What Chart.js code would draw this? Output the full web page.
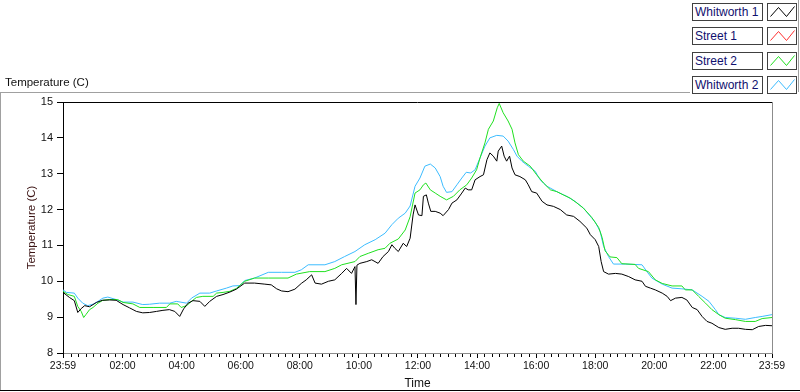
<!DOCTYPE html>
<html>
<head>
<meta charset="utf-8">
<title>Temperature (C)</title>
<script src="https://cdn.jsdelivr.net/npm/chart.js@4.4.1/dist/chart.umd.min.js"></script>
<style>
    body { margin: 0; background: #fff; }
    #wrap { position: relative; width: 800px; height: 392px; overflow: hidden; }
    #tempChart { position: absolute; left: 0; top: 0; }
    #plotTitle {
        position: absolute; left: 5px; top: 75px;
        font: 11.5px 'Liberation Sans', Arial, sans-serif; line-height: 14px; color: #111;
    }
    .leg-row { position: absolute; left: 692px; width: 106px; height: 18px; }
    .leg-name {
        position: absolute; left: 0; top: 0; width: 71px; height: 18px; box-sizing: border-box;
        border: 1px solid #404040; padding-left: 2px;
        font: 12px 'Liberation Sans', Arial, sans-serif; line-height: 16px; color: #10106e;
        white-space: nowrap; background: #fff;
    }
    .leg-swatch {
        position: absolute; left: 75px; top: 0; width: 30px; height: 18px; box-sizing: border-box;
        border: 1px solid #404040; background: #fff;
    }
    .leg-swatch svg { display: block; }
</style>
</head>
<body>
<div id="wrap">
    <canvas id="tempChart" width="800" height="392"></canvas>
    <div id="plotTitle">Temperature (C)</div>
    <div id="legend"></div>
</div>
<script>
// Series names, in legend order
const seriesNames = ['Whitworth 1', 'Street 1', 'Street 2', 'Whitworth 2'];

// Time axis: minutes since 23:59 of the previous day
const tickMinutes = [0, 121, 241, 361, 481, 601, 721, 841, 961, 1081, 1201, 1321, 1440];
const tickLabels = ['23:59', '02:00', '04:00', '06:00', '08:00', '10:00', '12:00',
    '14:00', '16:00', '18:00', '20:00', '22:00', '23:59'];
const yTicks = [8, 9, 10, 11, 12, 13, 14, 15];

// Whitworth 1 (black)
const w1Time = [0, 13, 23, 30, 37, 44, 54, 68, 80, 95, 108, 122, 135, 149, 162, 176, 190, 203, 216, 227,
    237, 245, 254, 264, 278, 288, 298, 312, 325, 339, 352, 369, 389, 410, 423, 434, 444, 457, 471, 484,
    494, 505, 512, 525, 539, 552, 566, 576, 586, 593, 595, 597, 603, 617, 627, 640, 650, 661, 668, 674,
    681, 691, 698, 705, 711, 715, 722, 729, 732, 738, 742, 747, 756, 766, 772, 783, 790, 800, 810, 817,
    823, 830, 837, 847, 854, 861, 867, 874, 881, 884, 891, 896, 901, 907, 912, 918, 928, 939, 945, 952,
    962, 973, 983, 996, 1010, 1023, 1037, 1050, 1064, 1071, 1081, 1088, 1093, 1098, 1108, 1122, 1135, 1149, 1162, 1176,
    1183, 1193, 1203, 1217, 1227, 1234, 1244, 1257, 1267, 1278, 1288, 1298, 1308, 1318, 1332, 1345, 1359, 1372, 1386, 1400,
    1413, 1427, 1440];
const w1Vals = [9.69, 9.55, 9.46, 9.13, 9.24, 9.32, 9.29, 9.41, 9.47, 9.48, 9.47, 9.35, 9.26, 9.16, 9.12, 9.13, 9.16, 9.19, 9.21, 9.16,
    9.02, 9.23, 9.39, 9.46, 9.44, 9.30, 9.44, 9.58, 9.63, 9.70, 9.78, 9.95, 9.95, 9.92, 9.90, 9.79, 9.73, 9.71, 9.78, 9.94,
    10.04, 10.18, 9.95, 9.92, 10.0, 10.04, 10.22, 10.36, 10.22, 10.41, 9.35, 10.45, 10.50, 10.55, 10.60, 10.50, 10.69, 10.83, 11.02, 10.92,
    10.83, 11.06, 10.97, 11.2, 11.85, 12.13, 11.85, 11.83, 12.37, 12.41, 12.18, 11.95, 11.95, 11.9, 11.83, 12.0, 12.18, 12.27, 12.46, 12.6,
    12.55, 12.55, 12.83, 12.92, 12.97, 13.39, 13.58, 13.49, 13.35, 13.63, 13.77, 13.49, 13.35, 13.49, 13.16, 12.97, 12.92, 12.83, 12.69, 12.5,
    12.46, 12.23, 12.13, 12.09, 12.0, 11.85, 11.81, 11.67, 11.48, 11.30, 11.16, 10.97, 10.55, 10.27, 10.2, 10.22, 10.2, 10.13, 10.04, 10.0,
    9.86, 9.81, 9.76, 9.67, 9.58, 9.46, 9.53, 9.55, 9.48, 9.27, 9.21, 9.02, 8.88, 8.83, 8.71, 8.66, 8.69, 8.69, 8.66, 8.65,
    8.74, 8.77, 8.76];

// Street 1 (red) - no trace visible on the plot
const s1Time = [];
const s1Vals = [];

// Street 2 (green)
const s2Time = [0, 10, 23, 30, 37, 42, 47, 54, 61, 71, 81, 95, 111, 122, 142, 156, 183, 210, 217, 233,
    240, 251, 261, 271, 284, 305, 312, 325, 339, 352, 369, 389, 417, 457, 474, 501, 532, 552, 566, 593,
    603, 620, 640, 654, 664, 681, 695, 705, 715, 725, 732, 737, 746, 756, 766, 779, 793, 806, 820, 830,
    840, 847, 857, 864, 874, 882, 886, 894, 904, 912, 918, 925, 935, 949, 962, 976, 990, 1003, 1016, 1030,
    1044, 1057, 1074, 1088, 1095, 1101, 1111, 1125, 1135, 1162, 1169, 1189, 1203, 1217, 1237, 1257, 1264, 1278, 1291, 1305,
    1318, 1332, 1345, 1366, 1386, 1406, 1420, 1440];
const s2Vals = [9.72, 9.63, 9.58, 9.30, 9.16, 8.99, 9.08, 9.21, 9.27, 9.39, 9.47, 9.49, 9.49, 9.41, 9.37, 9.27, 9.27, 9.27, 9.37, 9.37,
    9.27, 9.32, 9.44, 9.55, 9.58, 9.58, 9.67, 9.69, 9.72, 9.80, 10.0, 10.09, 10.09, 10.09, 10.20, 10.27, 10.27, 10.36, 10.46, 10.55,
    10.69, 10.78, 10.88, 10.92, 11.06, 11.18, 11.43, 11.80, 12.46, 12.55, 12.69, 12.74, 12.55, 12.46, 12.37, 12.27, 12.37, 12.55, 12.69, 12.88,
    13.11, 13.44, 13.86, 14.24, 14.47, 14.84, 14.96, 14.70, 14.47, 14.24, 13.86, 13.53, 13.35, 13.21, 12.97, 12.74, 12.55, 12.50, 12.41, 12.32,
    12.18, 12.04, 11.78, 11.50, 11.22, 10.85, 10.68, 10.66, 10.49, 10.47, 10.36, 10.27, 10.04, 9.94, 9.87, 9.87, 9.76, 9.76, 9.58, 9.39,
    9.21, 9.07, 8.97, 8.93, 8.88, 8.88, 8.96, 8.99];

// Whitworth 2 (light blue)
const w2Time = [0, 7, 23, 30, 40, 50, 61, 71, 81, 91, 108, 122, 142, 162, 176, 196, 217, 230, 251, 261,
    278, 298, 312, 332, 345, 359, 369, 389, 417, 444, 471, 484, 498, 532, 552, 572, 593, 613, 634, 654,
    668, 681, 695, 705, 715, 725, 735, 746, 756, 766, 772, 779, 790, 800, 810, 819, 828, 837, 847, 857,
    867, 881, 894, 904, 915, 922, 932, 945, 959, 969, 983, 1003, 1023, 1040, 1057, 1081, 1091, 1098, 1108, 1118,
    1142, 1176, 1186, 1196, 1217, 1237, 1257, 1278, 1298, 1312, 1325, 1332, 1345, 1366, 1386, 1406, 1420, 1440];
const w2Vals = [9.76, 9.69, 9.67, 9.53, 9.39, 9.32, 9.36, 9.44, 9.53, 9.56, 9.49, 9.42, 9.42, 9.35, 9.36, 9.39, 9.39, 9.44, 9.39, 9.53,
    9.67, 9.67, 9.73, 9.81, 9.87, 9.88, 10.02, 10.09, 10.25, 10.25, 10.25, 10.32, 10.46, 10.46, 10.55, 10.69, 10.83, 11.02, 11.16, 11.34,
    11.58, 11.76, 11.90, 12.1, 12.65, 12.88, 13.21, 13.27, 13.16, 12.92, 12.65, 12.48, 12.50, 12.69, 12.88, 13.04, 13.02, 13.11, 13.44, 13.77,
    14.0, 14.07, 14.05, 13.91, 13.67, 13.49, 13.35, 13.21, 13.07, 12.83, 12.65, 12.50, 12.37, 12.23, 12.04, 11.65, 11.39, 10.97, 10.69, 10.48,
    10.48, 10.46, 10.27, 10.09, 9.92, 9.81, 9.79, 9.76, 9.58, 9.44, 9.21, 9.07, 8.99, 8.97, 8.94, 8.99, 9.02, 9.07];

const seriesColors = ['#000000', '#ff3030', '#1fe01f', '#3cbcff'];

function toPoints(times, vals) {
    return times.map((t, i) => ({ x: t, y: vals[i] }));
}

// Frame lines around the panel and the plot area
const framePlugin = {
    id: 'frame',
    afterDraw(chart) {
        const ctx = chart.ctx;
        const a = chart.chartArea;
        ctx.save();
        ctx.lineWidth = 1;
        // panel frame
        ctx.strokeStyle = '#a0a0a0';
        ctx.beginPath();
        ctx.moveTo(0, 92.5); ctx.lineTo(690, 92.5);
        ctx.moveTo(0.5, 92); ctx.lineTo(0.5, 391);
        ctx.moveTo(798.5, 0); ctx.lineTo(798.5, 92);
        ctx.stroke();
        ctx.strokeStyle = '#000';
        ctx.beginPath();
        ctx.moveTo(0, 390.5); ctx.lineTo(800, 390.5);
        ctx.stroke();
        // plot top (black) and right (gray)
        ctx.beginPath();
        ctx.moveTo(a.left, Math.round(a.top) + 0.5); ctx.lineTo(a.right, Math.round(a.top) + 0.5);
        ctx.stroke();
        ctx.strokeStyle = '#8c8c8c';
        ctx.beginPath();
        ctx.moveTo(Math.round(a.right) + 0.5, a.top); ctx.lineTo(Math.round(a.right) + 0.5, a.bottom + 1);
        ctx.stroke();
        // minor time ticks every 15 minutes
        const xs = chart.scales.x;
        const y0 = Math.round(a.bottom);
        ctx.strokeStyle = '#000';
        ctx.beginPath();
        for (let m = 1; m < 1440; m += 15) {
            if (tickMinutes.some(t => Math.abs(t - m) < 3)) continue;
            const px = Math.round(xs.getPixelForValue(m)) + 0.5;
            ctx.moveTo(px, y0 + 1); ctx.lineTo(px, y0 + 4);
        }
        ctx.stroke();
        ctx.restore();
    }
};

function buildLegend() {
    const box = document.getElementById('legend');
    seriesNames.forEach((name, i) => {
        const row = document.createElement('div');
        row.className = 'leg-row';
        row.style.top = Math.round(3 + i * 24.4) + 'px';
        row.innerHTML = '<div class="leg-name">' + name + '</div>' +
            '<div class="leg-swatch"><svg width="28" height="16">' +
            '<polyline points="2.5,12.5 10.5,3.5 18.5,12.5 26.5,2.5" fill="none" stroke="' +
            seriesColors[i] + '" stroke-width="1"/></svg></div>';
        box.appendChild(row);
    });
}

function initTempChart() {
    const ctx = document.getElementById('tempChart');
    if (typeof Chart === 'undefined') {
        console.error('Chart.js is not loaded');
        return;
    }

    const series = [
        [w1Time, w1Vals], [s1Time, s1Vals], [s2Time, s2Vals], [w2Time, w2Vals]
    ];

    const config = {
        type: 'line',
        data: {
            datasets: series.map((s, i) => ({
                label: seriesNames[i],
                data: toPoints(s[0], s[1]),
                borderColor: seriesColors[i],
                backgroundColor: seriesColors[i],
                borderWidth: 1,
                pointRadius: 0,
                tension: 0,
                fill: false
            }))
        },
        options: {
            responsive: false,
            animation: false,
            events: [],
            layout: { padding: { top: 102, right: 28, left: 0, bottom: 0 } },
            plugins: {
                legend: { display: false },
                tooltip: { enabled: false }
            },
            scales: {
                x: {
                    type: 'linear',
                    min: 0,
                    max: 1440,
                    afterBuildTicks: function(scale) {
                        scale.ticks = tickMinutes.map(v => ({ value: v }));
                    },
                    afterFit: function(scale) { scale.height = 39; },
                    grid: { drawOnChartArea: false, drawTicks: true, tickLength: 5, color: '#000' },
                    border: { display: true, color: '#8c8c8c' },
                    ticks: {
                        autoSkip: false,
                        maxRotation: 0,
                        padding: 2,
                        color: '#111',
                        font: { size: 10.5, family: "'Liberation Sans', Arial, sans-serif" },
                        callback: function(value, index) { return tickLabels[index]; }
                    },
                    title: {
                        display: true,
                        text: 'Time',
                        color: '#111',
                        padding: { top: 0, bottom: 1 },
                        font: { size: 12, family: "'Liberation Sans', Arial, sans-serif" }
                    }
                },
                y: {
                    type: 'linear',
                    min: 8,
                    max: 15,
                    afterBuildTicks: function(scale) {
                        scale.ticks = yTicks.map(v => ({ value: v }));
                    },
                    afterFit: function(scale) { scale.width = 63; },
                    grid: { drawOnChartArea: false, drawTicks: true, tickLength: 6, color: '#000' },
                    border: { display: true, color: '#000' },
                    ticks: {
                        padding: 4,
                        color: '#111',
                        font: { size: 11, family: "'Liberation Sans', Arial, sans-serif" }
                    },
                    title: {
                        display: true,
                        text: 'Temperature (C)',
                        color: '#3c1414',
                        padding: { top: 25, bottom: 0 },
                        font: { size: 11.5, family: "'Liberation Sans', Arial, sans-serif" }
                    }
                }
            }
        },
        plugins: [framePlugin]
    };

    window.tempChart = new Chart(ctx, config);
}

document.addEventListener('DOMContentLoaded', function() {
    buildLegend();
    initTempChart();
});
</script>
</body>
</html>
